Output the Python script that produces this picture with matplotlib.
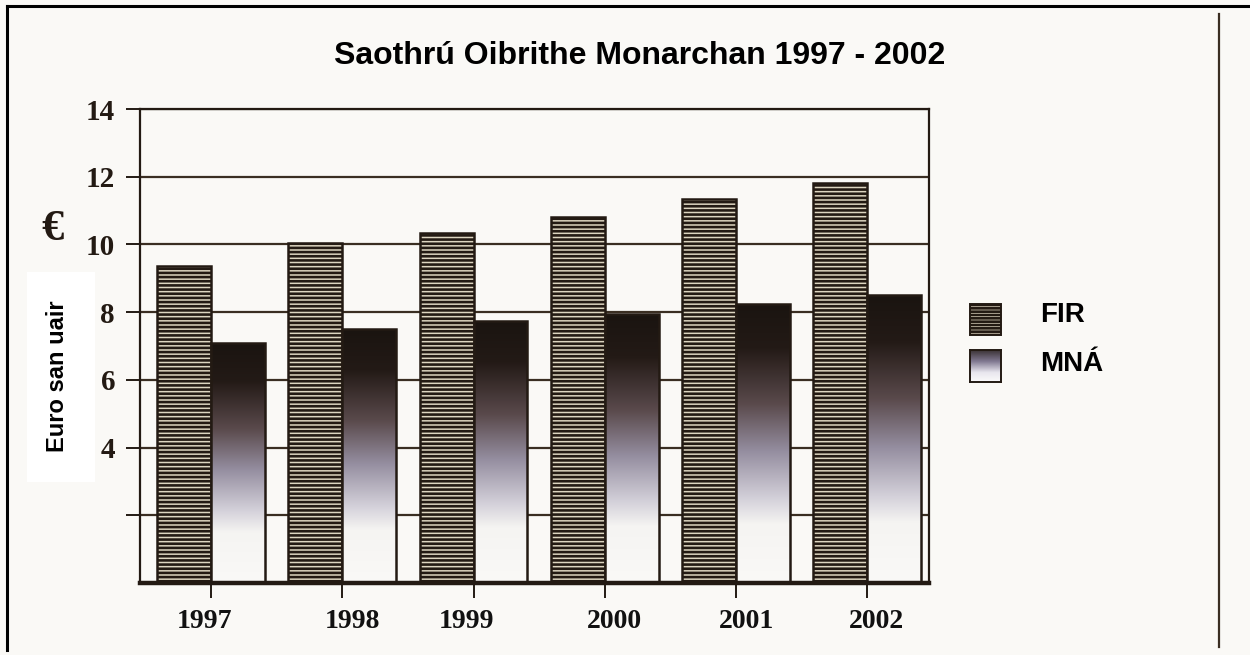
import matplotlib
matplotlib.use("Agg")
import matplotlib.pyplot as plt
import matplotlib.transforms as mtrans
from matplotlib.colors import LinearSegmentedColormap
from matplotlib.patches import Rectangle
import numpy as np

# ---- data ----
years = ["1997", "1998", "1999", "2000", "2001", "2002"]
fir = [9.35, 10.05, 10.35, 10.8, 11.35, 11.8]
mna = [7.1, 7.5, 7.75, 7.95, 8.25, 8.5]
ytick_vals = [2, 4, 6, 8, 10, 12, 14]
ytick_labels = ["", "4", "6", "8", "10", "12", "14"]
title = "Saothrú Oibrithe Monarchan 1997 - 2002"
ylabel = "Euro san uair"
legend_labels = ["FIR", "MNÁ"]

# ---- style ----
BG = "#faf9f6"
DARK = "#231a13"
plt.rcParams["hatch.linewidth"] = 1.9
plt.rcParams["hatch.color"] = "#231a13"

W, H = 1250, 655
fig = plt.figure(figsize=(W / 100, H / 100), dpi=100)
fig.patch.set_facecolor(BG)

def fx(px):
    return px / W

def fy(py):
    return 1 - py / H

ax = fig.add_axes([fx(140), fy(583), fx(929) - fx(140), fy(109) - fy(583)])
ax.set_facecolor(BG)

x = np.arange(len(years))
bw = 0.41

# gridlines behind bars
for v in ytick_vals:
    ax.axhline(v, color="#3a2e22", lw=1.6, zorder=1)

# FIR bars: striped
ax.bar(x - bw, fir, width=bw, align="edge", facecolor="#ddd5c0",
       edgecolor=DARK, linewidth=1.8, hatch="----", zorder=3)

# MNÁ bars: vertical gradient dark top -> white bottom
cmap = LinearSegmentedColormap.from_list(
    "mna",
    [(0.0, "#1a1410"), (0.16, "#231a16"), (0.36, "#5a4a4c"),
     (0.53, "#958ea0"), (0.70, "#d4d1da"), (0.79, "#f5f4f2"), (1.0, "#faf9f7")])
grad = np.linspace(0, 1, 256).reshape(-1, 1)
mna_bars = ax.bar(x, mna, width=bw, align="edge", facecolor="none",
                  edgecolor=DARK, linewidth=1.8, zorder=4)
for b in mna_bars:
    x0, w, h = b.get_x(), b.get_width(), b.get_height()
    im = ax.imshow(grad, cmap=cmap, aspect="auto", extent=[x0, x0 + w, 0, h],
                   origin="upper", zorder=3, interpolation="bilinear")
    im.set_clip_path(b)

ax.set_xlim(-0.541, 5.47)
ax.set_ylim(0, 14)

for s in ax.spines.values():
    s.set_color(DARK)
    s.set_linewidth(1.6)
    s.set_zorder(5)
ax.spines["bottom"].set_linewidth(3.2)

ax.set_yticks(ytick_vals)
ax.set_yticklabels(ytick_labels, fontfamily="Liberation Serif",
                   fontweight="bold", fontsize=21, color="#231a13")
ax.tick_params(axis="y", length=10, width=1.4, color=DARK, pad=8)

ax.set_xticks(x)
ax.set_xticklabels([])
ax.tick_params(axis="x", length=11, width=1.4, color=DARK)

# year labels (slight nudges as in the scan)
label_nudge = [-0.05, 0.08, -0.05, 0.07, 0.08, 0.07]
tr = mtrans.blended_transform_factory(ax.transData, fig.transFigure)
for i, (yr, dx) in enumerate(zip(years, label_nudge)):
    ax.text(i + dx, fy(621), yr, transform=tr,
            ha="center", va="center", fontfamily="Liberation Serif",
            fontweight="bold", fontsize=20, color="#111111")

# title
fig.text(fx(640), fy(56), title, ha="center", va="center",
         fontfamily="Liberation Sans", fontweight="bold", fontsize=23, color="black")

# euro symbol
fig.text(fx(52), fy(229), "€", ha="center", va="center",
         fontfamily="Liberation Serif", fontweight="bold", fontsize=32, color="#231a13")

# y label with white box
fig.patches.append(Rectangle((fx(27), fy(482)), fx(95) - fx(27), fy(272) - fy(482),
                             transform=fig.transFigure, facecolor="white",
                             edgecolor="none", zorder=1))
fig.text(fx(58), fy(376), ylabel, rotation=90, ha="center", va="center",
         fontfamily="Liberation Sans", fontweight="bold", fontsize=17, color="black",
         zorder=2)

# legend
fig.patches.append(Rectangle((fx(970), fy(335)), fx(1001) - fx(970), fy(304) - fy(335),
                             transform=fig.transFigure, facecolor="#ddd5c0",
                             edgecolor=DARK, linewidth=1.4, hatch="-----"))
lx0, lx1, ly0, ly1 = fx(970), fx(1001), fy(382), fy(350)
leg_ax = fig.add_axes([lx0, ly0, lx1 - lx0, ly1 - ly0])
leg_ax.imshow(grad, cmap=LinearSegmentedColormap.from_list(
    "legm", [(0, "#3a3234"), (0.35, "#807890"), (0.7, "#e8e6ee"), (1, "#fbfbfb")]),
    aspect="auto", extent=[0, 1, 0, 1], origin="upper")
leg_ax.set_xticks([]); leg_ax.set_yticks([])
for s in leg_ax.spines.values():
    s.set_color(DARK); s.set_linewidth(1.4)

fig.text(fx(1040), fy(315), legend_labels[0], ha="left", va="center",
         fontfamily="Liberation Sans", fontweight="bold", fontsize=20, color="black")
fig.text(fx(1040), fy(364), legend_labels[1], ha="left", va="center",
         fontfamily="Liberation Sans", fontweight="bold", fontsize=20, color="black")

# page frame lines
fig.add_artist(plt.Line2D([fx(7), fx(7)], [fy(6), fy(650)], transform=fig.transFigure,
                          color="black", lw=2.2))
fig.add_artist(plt.Line2D([fx(7), 1], [fy(6), fy(6)], transform=fig.transFigure,
                          color="black", lw=2.2))
fig.add_artist(plt.Line2D([fx(1219), fx(1219)], [fy(14), fy(647)], transform=fig.transFigure,
                          color="#3a2e22", lw=1.6))

fig.savefig("out.png", dpi=100, facecolor=BG)
